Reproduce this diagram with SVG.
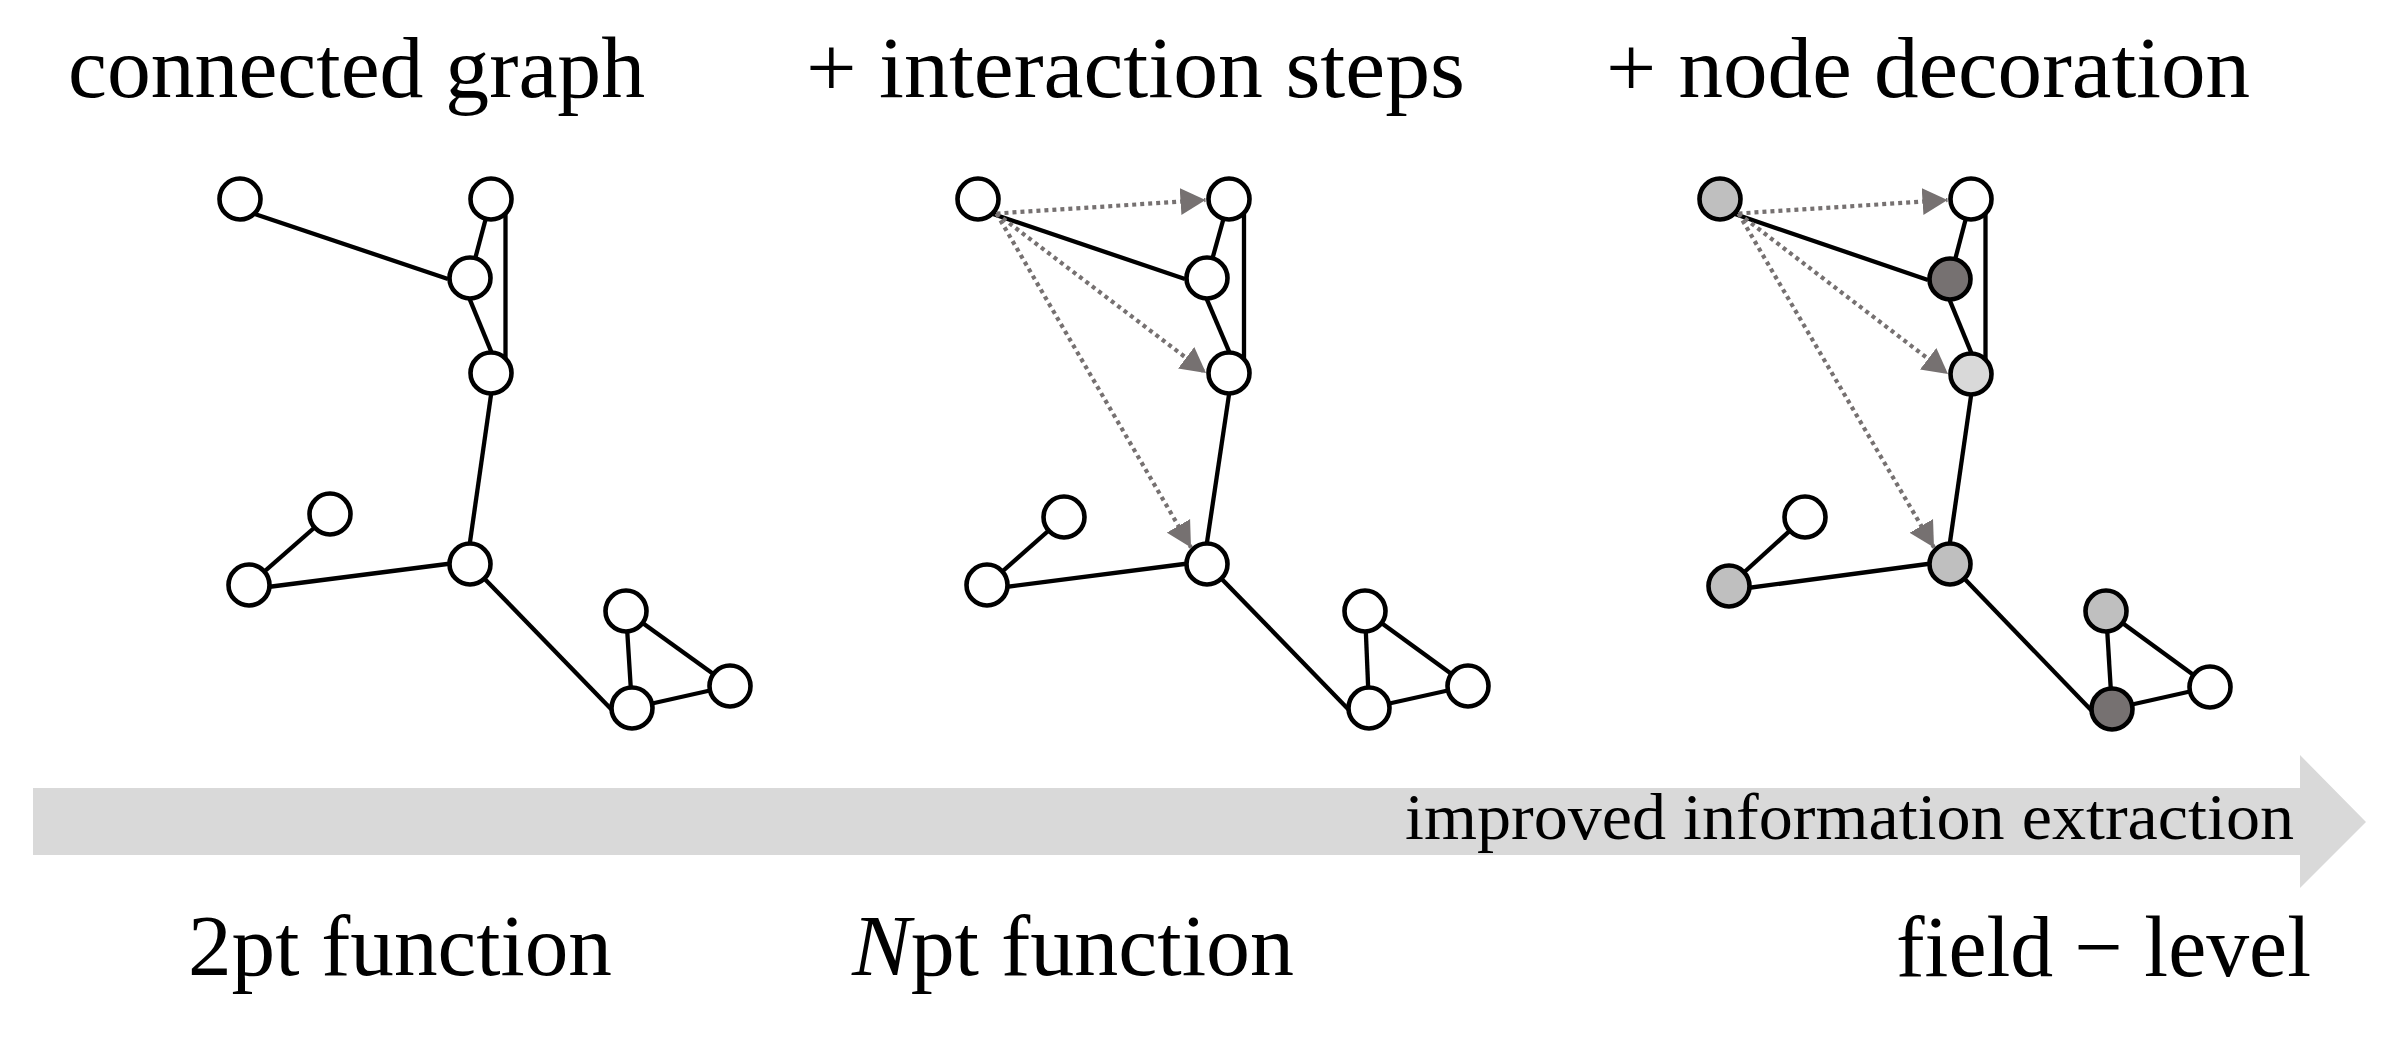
<svg xmlns="http://www.w3.org/2000/svg" width="2397" height="1040" viewBox="0 0 2397 1040">
<style>
.bg{fill:#ffffff}
.edge{stroke:#000;stroke-width:4.3;fill:none;stroke-linecap:butt}
.step{stroke:#767171;stroke-width:4.2;fill:none;stroke-dasharray:4 4;marker-end:url(#ah)}
.node{stroke:#000;stroke-width:4.6;fill:#fff}
.lg{fill:#bfbfbf}
.xl{fill:#d9d9d9}
.dk{fill:#767171}
.t{font-family:"Liberation Serif","Times New Roman",serif;fill:#000}
.big{font-size:86px}
.mid{font-size:66px}
</style>
<defs>
<marker id="ah" markerUnits="userSpaceOnUse" markerWidth="26" markerHeight="28" refX="25" refY="13.5" orient="auto" viewBox="0 0 26 27">
<path d="M0,0 L25,13.5 L0,27 z" fill="#767171"/>
</marker>
</defs>
<rect class="bg" x="0" y="0" width="2397" height="1040"/>

<g id="titles">
<text class="t big" x="68" y="97" textLength="577" lengthAdjust="spacingAndGlyphs">connected graph</text>
<text class="t big" x="806" y="97" textLength="659" lengthAdjust="spacingAndGlyphs">+ interaction steps</text>
<text class="t big" x="1606" y="97" textLength="644" lengthAdjust="spacingAndGlyphs">+ node decoration</text>
</g>

<g id="progress-arrow">
<polygon points="33,788 2300,788 2300,755 2366,822 2300,888 2300,855 33,855" fill="#d9d9d9"/>
<text class="t mid" x="1405" y="839" textLength="889" lengthAdjust="spacingAndGlyphs">improved information extraction</text>
</g>

<g id="bottom-labels">
<text class="t big" x="188" y="975" textLength="424" lengthAdjust="spacingAndGlyphs">2pt function</text>
<text class="t big" x="852" y="975" textLength="442" lengthAdjust="spacingAndGlyphs"><tspan font-style="italic">N</tspan>pt function</text>
<text class="t big" x="1896" y="976" textLength="415" lengthAdjust="spacingAndGlyphs">field − level</text>
</g>

<g id="connectors">
<!-- panel 1 -->
<line class="edge" x1="252" y1="213" x2="448" y2="279"/>
<line class="edge" x1="491" y1="199" x2="470" y2="278"/>
<line class="edge" x1="505.5" y1="209" x2="505.5" y2="363"/>
<line class="edge" x1="467" y1="292.6" x2="494" y2="358.4"/>
<line class="edge" x1="492" y1="388" x2="469" y2="549"/>
<line class="edge" x1="455" y1="563" x2="264" y2="587.5"/>
<line class="edge" x1="249" y1="585" x2="330" y2="514"/>
<line class="edge" x1="482.3" y1="576.4" x2="613.2" y2="711.3"/>
<line class="edge" x1="626" y1="611" x2="632" y2="708"/>
<line class="edge" x1="626" y1="611" x2="730" y2="686"/>
<line class="edge" x1="730" y1="686" x2="632" y2="708"/>
<!-- panel 2 -->
<line class="edge" x1="990" y1="213" x2="1185" y2="279"/>
<line class="edge" x1="1229" y1="199" x2="1207" y2="278"/>
<line class="edge" x1="1244" y1="209" x2="1244" y2="363"/>
<line class="edge" x1="1204" y1="292.6" x2="1232" y2="358.4"/>
<line class="edge" x1="1230" y1="388" x2="1206" y2="549"/>
<line class="edge" x1="1192" y1="563" x2="1002" y2="587.5"/>
<line class="edge" x1="987" y1="585" x2="1064" y2="517"/>
<line class="edge" x1="1219.3" y1="576.4" x2="1350.2" y2="711.3"/>
<line class="edge" x1="1365" y1="611" x2="1369" y2="708"/>
<line class="edge" x1="1365" y1="611" x2="1468" y2="686"/>
<line class="edge" x1="1468" y1="686" x2="1369" y2="708"/>
<line class="step" x1="996.5" y1="213.5" x2="1205.5" y2="200"/>
<line class="step" x1="996.5" y1="213.5" x2="1206" y2="373"/>
<line class="step" x1="996.5" y1="213.5" x2="1191" y2="547.5"/>
<!-- panel 3 -->
<line class="edge" x1="1732" y1="213" x2="1928" y2="280"/>
<line class="edge" x1="1971" y1="199" x2="1950" y2="279"/>
<line class="edge" x1="1985.5" y1="209" x2="1985.5" y2="364"/>
<line class="edge" x1="1947" y1="293.6" x2="1974" y2="359.4"/>
<line class="edge" x1="1972" y1="389" x2="1949" y2="549"/>
<line class="edge" x1="1935" y1="563" x2="1744" y2="588.5"/>
<line class="edge" x1="1729" y1="586" x2="1805" y2="517"/>
<line class="edge" x1="1962.3" y1="576.4" x2="2093.2" y2="712.3"/>
<line class="edge" x1="2106" y1="611" x2="2112" y2="709"/>
<line class="edge" x1="2106" y1="611" x2="2210" y2="687"/>
<line class="edge" x1="2210" y1="687" x2="2112" y2="709"/>
<line class="step" x1="1738.5" y1="213.5" x2="1947.5" y2="200"/>
<line class="step" x1="1738.5" y1="213.5" x2="1948" y2="374"/>
<line class="step" x1="1738.5" y1="213.5" x2="1934" y2="547.5"/>
</g>

<g id="p1-a"><circle class="node" cx="240" cy="199" r="20.5"/></g>
<g id="p1-b"><circle class="node" cx="491" cy="199" r="20.5"/></g>
<g id="p1-c"><circle class="node" cx="470" cy="278" r="20.5"/></g>
<g id="p1-d"><circle class="node" cx="491" cy="373" r="20.5"/></g>
<g id="p1-e"><circle class="node" cx="330" cy="514" r="20.5"/></g>
<g id="p1-f"><circle class="node" cx="249" cy="585" r="20.5"/></g>
<g id="p1-g"><circle class="node" cx="470" cy="564" r="20.5"/></g>
<g id="p1-h"><circle class="node" cx="626" cy="611" r="20.5"/></g>
<g id="p1-i"><circle class="node" cx="730" cy="686" r="20.5"/></g>
<g id="p1-j"><circle class="node" cx="632" cy="708" r="20.5"/></g>

<g id="p2-a"><circle class="node" cx="978" cy="199" r="20.5"/></g>
<g id="p2-b"><circle class="node" cx="1229" cy="199" r="20.5"/></g>
<g id="p2-c"><circle class="node" cx="1207" cy="278" r="20.5"/></g>
<g id="p2-d"><circle class="node" cx="1229" cy="373" r="20.5"/></g>
<g id="p2-e"><circle class="node" cx="1064" cy="517" r="20.5"/></g>
<g id="p2-f"><circle class="node" cx="987" cy="585" r="20.5"/></g>
<g id="p2-g"><circle class="node" cx="1207" cy="564" r="20.5"/></g>
<g id="p2-h"><circle class="node" cx="1365" cy="611" r="20.5"/></g>
<g id="p2-i"><circle class="node" cx="1468" cy="686" r="20.5"/></g>
<g id="p2-j"><circle class="node" cx="1369" cy="708" r="20.5"/></g>

<g id="p3-a"><circle class="node lg" cx="1720" cy="199" r="20.5"/></g>
<g id="p3-b"><circle class="node" cx="1971" cy="199" r="20.5"/></g>
<g id="p3-c"><circle class="node dk" cx="1950" cy="279" r="20.5"/></g>
<g id="p3-d"><circle class="node xl" cx="1971" cy="374" r="20.5"/></g>
<g id="p3-e"><circle class="node" cx="1805" cy="517" r="20.5"/></g>
<g id="p3-f"><circle class="node lg" cx="1729" cy="586" r="20.5"/></g>
<g id="p3-g"><circle class="node lg" cx="1950" cy="564" r="20.5"/></g>
<g id="p3-h"><circle class="node lg" cx="2106" cy="611" r="20.5"/></g>
<g id="p3-i"><circle class="node" cx="2210" cy="687" r="20.5"/></g>
<g id="p3-j"><circle class="node dk" cx="2112" cy="709" r="20.5"/></g>
</svg>
